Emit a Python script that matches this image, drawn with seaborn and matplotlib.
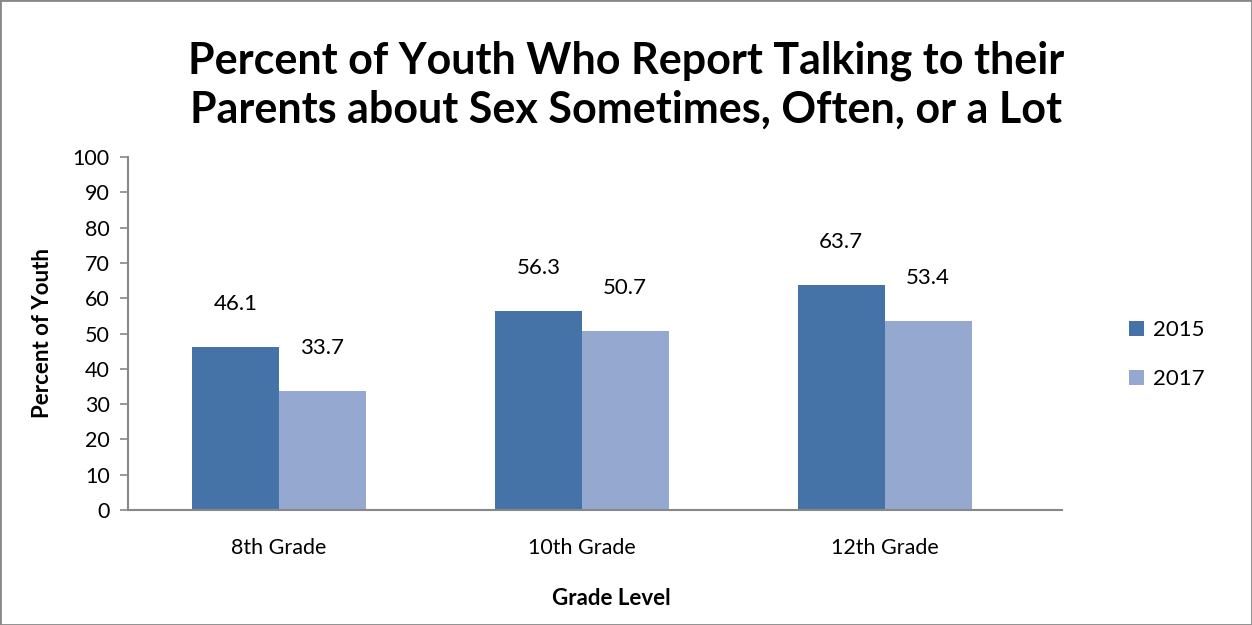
import pandas as pd
import matplotlib.pyplot as plt
import seaborn as sns

grades = ['8th Grade', '10th Grade', '12th Grade']
years = ['2015', '2017']
pct_2015 = [46.1, 56.3, 63.7]
pct_2017 = [33.7, 50.7, 53.4]

data = pd.DataFrame({
    'Grade': grades * 2,
    'Year': ['2015'] * 3 + ['2017'] * 3,
    'Pct': pct_2015 + pct_2017,
})

sns.set_style('white')
plt.rcParams['font.family'] = ['Lato', 'DejaVu Sans']
plt.rcParams['text.color'] = 'black'
plt.rcParams['axes.labelcolor'] = 'black'
plt.rcParams['xtick.color'] = 'black'
plt.rcParams['ytick.color'] = 'black'

fig = plt.figure(figsize=(12.52, 6.25), dpi=100)
ax = fig.add_axes([0.1022, 0.184, 0.746, 0.5648])
colors = ['#4573a7', '#95a9d0']
sns.barplot(x='Grade', y='Pct', hue='Year', data=data, order=grades,
            hue_order=years, palette=colors, width=0.574, saturation=1,
            linewidth=0, ax=ax, errorbar=None)

for cont in ax.containers:
    ax.bar_label(cont, fmt='%.1f', padding=24, fontsize=16)

ax.set_ylim(0, 100)
ax.set_yticks(range(0, 101, 10))
ax.set_xlim(-0.498, 2.585)
ax.tick_params(axis='both', labelsize=15.5)
ax.tick_params(axis='y', left=True, length=6, width=1.2, color='#888888', pad=7)
ax.tick_params(axis='x', length=0, pad=20)
for s in ['top', 'right']:
    ax.spines[s].set_visible(False)
for s in ['left', 'bottom']:
    ax.spines[s].set_color('#888888')
    ax.spines[s].set_linewidth(1.5)

ax.set_xlabel('Grade Level', fontsize=16, fontweight='bold')
ax.set_ylabel('Percent of Youth', fontsize=16, fontweight='bold', labelpad=14)
ax.xaxis.set_label_coords(0.517, -0.22)
fig.suptitle('Percent of Youth Who Report Talking to their\nParents about Sex Sometimes, Often, or a Lot',
             fontsize=31, fontweight='bold', x=0.5, y=0.935, linespacing=1.25)

ax.legend(title=None, frameon=False, fontsize=16, loc='center left',
          bbox_to_anchor=(1.05, 0.44), handlelength=0.7, handleheight=0.7,
          labelspacing=1.3, handletextpad=0.4)

fig.patches.append(plt.Rectangle((0, 0), 1, 1, transform=fig.transFigure,
                                 fill=False, edgecolor='#888888', linewidth=2))
fig.savefig('out.png', dpi=100)
